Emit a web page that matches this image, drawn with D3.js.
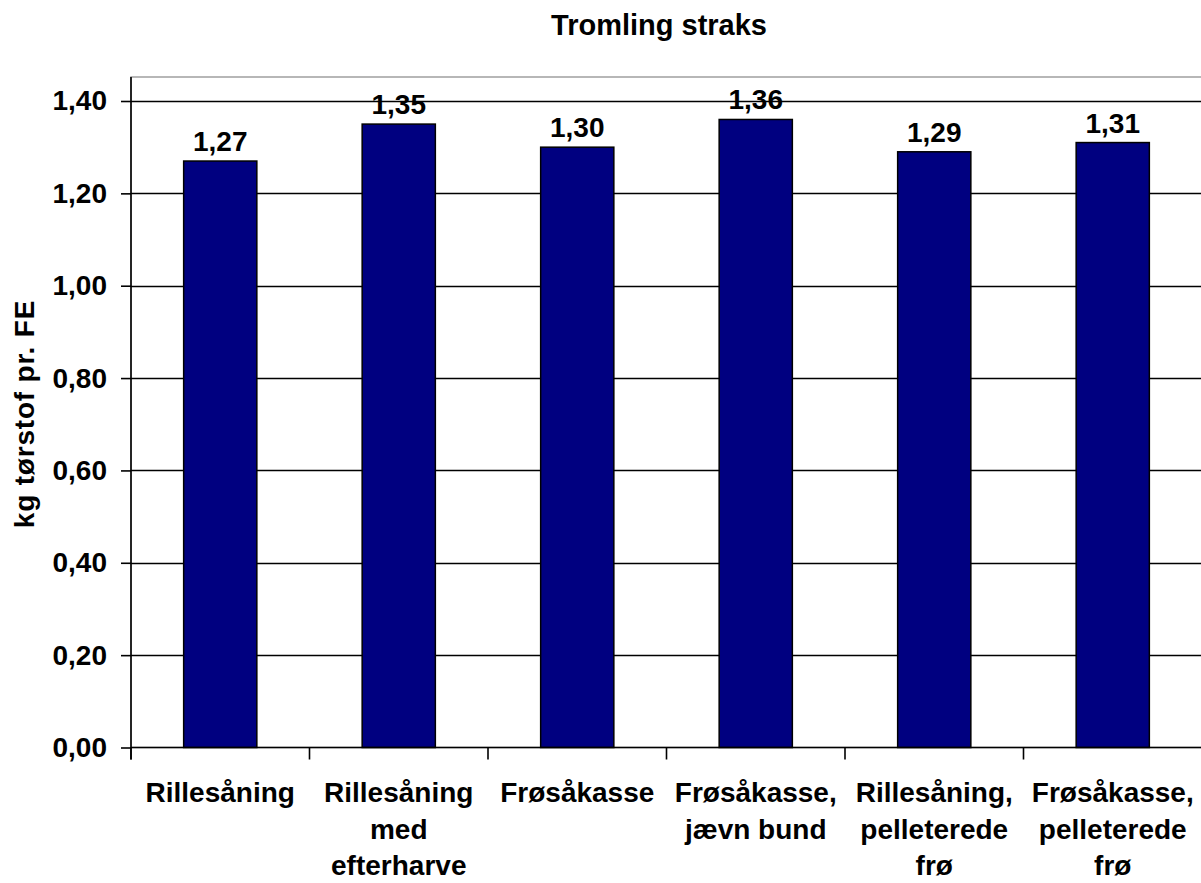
<!DOCTYPE html>
<html>
<head>
<meta charset="utf-8">
<script src="https://d3js.org/d3.v7.min.js"></script>
<style>
  body { margin: 0; background: #fff; }
  text { font-family: "Liberation Sans", Arial, sans-serif; font-weight: bold; fill: #000; }
</style>
</head>
<body>
<div class="chart"></div>
<script>
var svgWidth = 1201;
var svgHeight = 883;

var categories = [
  ["Rillesåning"],
  ["Rillesåning", "med", "efterharve"],
  ["Frøsåkasse"],
  ["Frøsåkasse,", "jævn bund"],
  ["Rillesåning,", "pelleterede", "frø"],
  ["Frøsåkasse,", "pelleterede", "frø"]
];
var values = [1.27, 1.35, 1.30, 1.36, 1.29, 1.31];
var valueLabels = ["1,27", "1,35", "1,30", "1,36", "1,29", "1,31"];
var yTicks = [0, 0.2, 0.4, 0.6, 0.8, 1.0, 1.2, 1.4];

var margin = { top: 77, left: 131 };
var plotRight = 1202;
var plotBottom = 747.5;

var svg = d3.select(".chart")
  .append("svg")
  .attr("width", svgWidth)
  .attr("height", svgHeight);

var x = d3.scaleBand()
  .domain(d3.range(categories.length))
  .range([margin.left, plotRight])
  .paddingInner(0.59)
  .paddingOuter(0.295);

var xBand = d3.scaleBand()
  .domain(d3.range(categories.length))
  .range([margin.left, plotRight]);

var y = d3.scaleLinear()
  .domain([0, 1.4])
  .range([plotBottom, 101]);

// plot area border (grey)
svg.append("rect")
  .attr("x", margin.left)
  .attr("y", margin.top)
  .attr("width", plotRight - margin.left)
  .attr("height", plotBottom - margin.top)
  .attr("fill", "none")
  .attr("stroke", "#a0a0a0")
  .attr("stroke-width", 1.5);

// gridlines
svg.selectAll(".grid")
  .data(yTicks.slice(1))
  .enter().append("line")
    .attr("x1", margin.left)
    .attr("x2", plotRight)
    .attr("y1", function(d) { return Math.round(y(d)) + 0.5; })
    .attr("y2", function(d) { return Math.round(y(d)) + 0.5; })
    .attr("stroke", "#000")
    .attr("stroke-width", 1.6);

// bars
svg.selectAll(".bar")
  .data(values)
  .enter().append("rect")
    .attr("x", function(d, i) { return x(i); })
    .attr("y", function(d) { return y(d); })
    .attr("width", x.bandwidth())
    .attr("height", function(d) { return plotBottom - y(d); })
    .attr("fill", "#000080")
    .attr("stroke", "#000")
    .attr("stroke-width", 1.5);

// value labels
svg.selectAll(".val")
  .data(values)
  .enter().append("text")
    .attr("x", function(d, i) { return x(i) + x.bandwidth() / 2; })
    .attr("y", function(d) { return y(d) - 10; })
    .attr("text-anchor", "middle")
    .style("font-size", "28px")
    .text(function(d, i) { return valueLabels[i]; });

// y axis
var leftAxis = d3.axisLeft(y)
  .tickValues(yTicks)
  .tickSize(10)
  .tickPadding(14)
  .tickFormat(function(d) { return d3.format(".2f")(d).replace(".", ","); });

var yAxis = svg.append("g")
  .attr("transform", "translate(" + margin.left + ",0)")
  .call(leftAxis);
yAxis.select(".domain").remove();
yAxis.selectAll("line").attr("stroke", "#000").attr("stroke-width", 1.6);
yAxis.selectAll("text").style("font-size", "28px").style("font-family", "Liberation Sans, Arial, sans-serif").style("font-weight", "bold");

svg.append("line")
  .attr("x1", margin.left).attr("x2", margin.left)
  .attr("y1", margin.top).attr("y2", plotBottom + 12)
  .attr("stroke", "#000")
  .attr("stroke-width", 1.6);

// x axis line and ticks at band boundaries
svg.append("line")
  .attr("x1", margin.left).attr("x2", plotRight)
  .attr("y1", plotBottom).attr("y2", plotBottom)
  .attr("stroke", "#000")
  .attr("stroke-width", 1.6);

svg.selectAll(".xtick")
  .data(d3.range(categories.length + 1))
  .enter().append("line")
    .attr("x1", function(d) { return margin.left + d * xBand.bandwidth(); })
    .attr("x2", function(d) { return margin.left + d * xBand.bandwidth(); })
    .attr("y1", plotBottom)
    .attr("y2", plotBottom + 12)
    .attr("stroke", "#000")
    .attr("stroke-width", 1.6);

// category labels
var catText = svg.selectAll(".cat")
  .data(categories)
  .enter().append("text")
    .attr("text-anchor", "middle")
    .style("font-size", "28px")
    .attr("transform", function(d, i) {
      return "translate(" + (xBand(i) + xBand.bandwidth() / 2) + ",802)";
    });

catText.selectAll("tspan")
  .data(function(d) { return d; })
  .enter().append("tspan")
    .attr("x", 0)
    .attr("y", function(d, i) { return i * 36.5; })
    .text(function(d) { return d; });

// title
svg.append("text")
  .attr("x", 659)
  .attr("y", 35)
  .attr("text-anchor", "middle")
  .style("font-size", "29px")
  .text("Tromling straks");

// y axis title
svg.append("text")
  .attr("transform", "translate(34,414) rotate(-90)")
  .attr("text-anchor", "middle")
  .style("font-size", "28px")
  .style("letter-spacing", "0.8px")
  .text("kg tørstof pr. FE");
</script>
</body>
</html>
